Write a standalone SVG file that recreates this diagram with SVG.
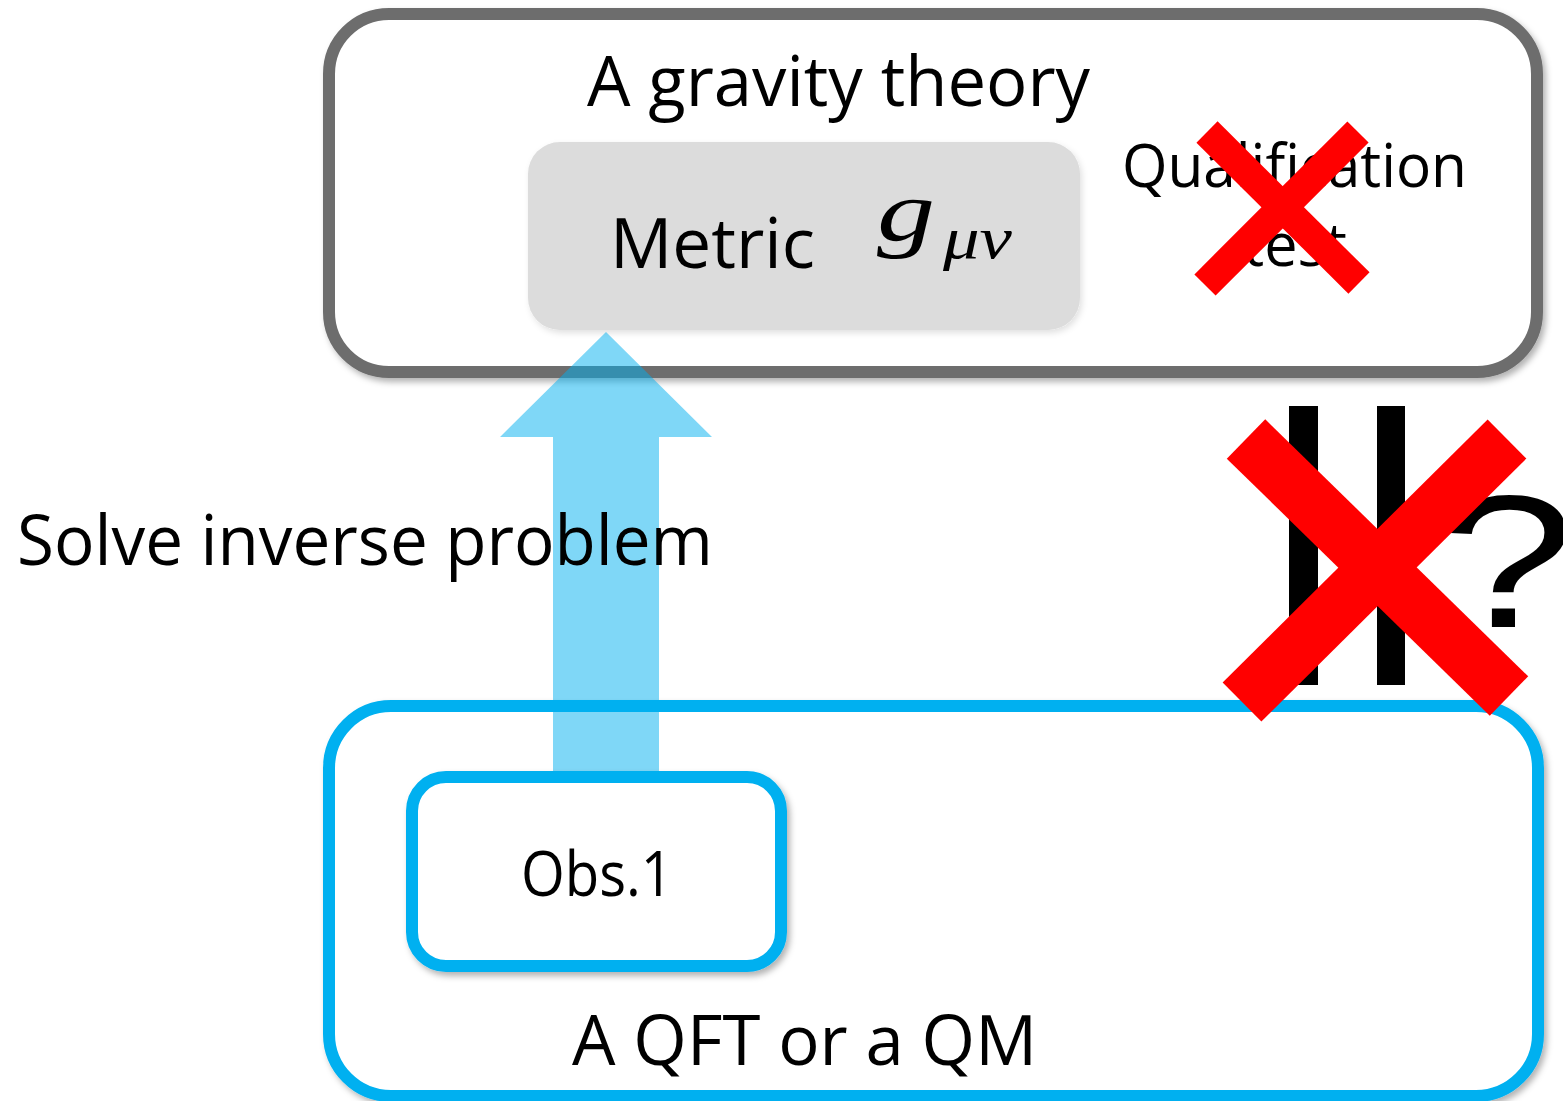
<svg xmlns="http://www.w3.org/2000/svg" width="1563" height="1101" viewBox="0 0 1563 1101">
  <defs>
    <filter id="sh" x="-5%" y="-5%" width="112%" height="115%">
      <feDropShadow dx="3" dy="4" stdDeviation="3" flood-color="#000" flood-opacity="0.3"/>
    </filter>
    <filter id="shl" x="-5%" y="-5%" width="112%" height="115%">
      <feDropShadow dx="2" dy="3" stdDeviation="3" flood-color="#000" flood-opacity="0.12"/>
    </filter>
  </defs>
  <style>
    .t { font-family: "Open Sans", "Liberation Sans", sans-serif; fill: #000; }
    .m { font-family: "Liberation Serif", "DejaVu Serif", serif; font-style: italic; fill: #000; }
    .box { fill: #fff; stroke-width: 12; }
    .xr { stroke: #ff0000; fill: none; stroke-linecap: butt; }
  </style>

  <g id="gravity-theory">
    <rect class="box" x="329" y="14" width="1208" height="358" rx="60" stroke="#6d6d6d" filter="url(#sh)"/>
    <text class="t" x="587" y="106" font-size="69" textLength="503" lengthAdjust="spacingAndGlyphs">A gravity theory</text>
  </g>

  <g id="metric">
    <rect x="528" y="142" width="552" height="188" rx="32" fill="#dcdcdc" filter="url(#shl)"/>
    <text class="t" x="610" y="268" font-size="69" textLength="205" lengthAdjust="spacingAndGlyphs">Metric</text>
    <text class="m" x="877" y="240" font-size="86" textLength="58" lengthAdjust="spacingAndGlyphs">g</text>
    <text class="m" x="943" y="258" font-size="60" textLength="69" lengthAdjust="spacingAndGlyphs">μν</text>
  </g>

  <g id="qft">
    <rect class="box" x="329" y="706" width="1209" height="390" rx="62" stroke="#00b0f0" filter="url(#sh)"/>
    <text class="t" x="572" y="1065" font-size="69" textLength="465" lengthAdjust="spacingAndGlyphs">A QFT or a QM</text>
  </g>

  <g id="connectors">
    <polygon points="606,332 712,437 659,437 659,777 553,777 553,437 500,437" fill="#00b0f0" fill-opacity="0.5"/>
  </g>

  <g id="obs1">
    <rect class="box" x="412" y="777" width="369" height="189" rx="34" stroke="#00b0f0" filter="url(#sh)"/>
    <text class="t" x="521" y="896" font-size="62" textLength="152" lengthAdjust="spacingAndGlyphs">Obs.1</text>
  </g>

  <g id="solve-label">
    <text class="t" x="17" y="565" font-size="70" textLength="696" lengthAdjust="spacingAndGlyphs">Solve inverse problem</text>
  </g>

  <g id="qualification">
    <text class="t" x="1122" y="187" font-size="61" textLength="345" lengthAdjust="spacingAndGlyphs">Qualification</text>
    <text class="t" x="1243" y="266" font-size="61" textLength="104" lengthAdjust="spacingAndGlyphs">test</text>
    <line class="xr" x1="1207" y1="132" x2="1359" y2="283" stroke-width="30"/>
    <line class="xr" x1="1358" y1="132" x2="1205" y2="285" stroke-width="30"/>
  </g>

  <g id="equal-question">
    <rect x="1289" y="406" width="29" height="279" fill="#000"/>
    <rect x="1377" y="406" width="28" height="279" fill="#000"/>
    <text x="1440" y="627" font-family="Liberation Sans, Arial, sans-serif" font-size="190" fill="#000" textLength="135" lengthAdjust="spacingAndGlyphs">?</text>
    <line class="xr" x1="1246" y1="439" x2="1509" y2="696" stroke-width="55"/>
    <line class="xr" x1="1507" y1="439" x2="1242" y2="702" stroke-width="55"/>
  </g>
</svg>
